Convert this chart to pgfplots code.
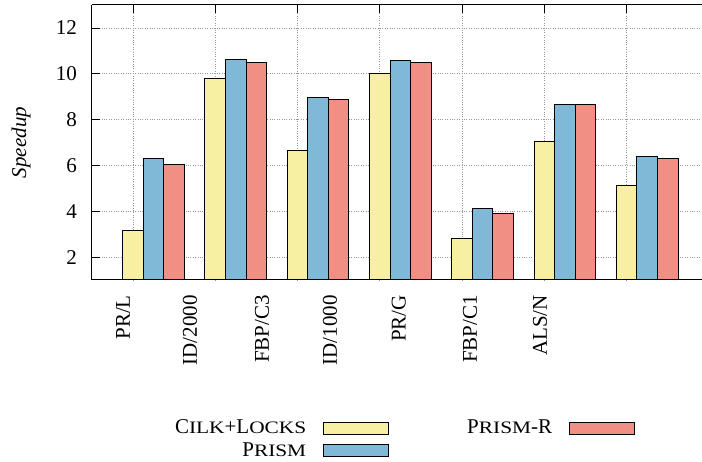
\documentclass[border=0pt]{standalone}
\usepackage{fontspec}
\setmainfont{Liberation Serif}
\usepackage{graphicx}
\usepackage{pgfplots}
\pgfplotsset{compat=1.18}
\definecolor{cyel}{RGB}{247,240,163}
\definecolor{cblu}{RGB}{128,184,216}
\definecolor{cred}{RGB}{242,143,132}
\newcommand{\sm}[1]{\scalebox{1.22}[1]{\fontsize{17.5}{20}\selectfont #1}}
\begin{document}
\fontsize{21}{25}\selectfont
\begin{tikzpicture}
\path[use as bounding box] (-92pt,-182pt) rectangle (610pt,280pt);
\begin{axis}[
  at={(0,0)}, anchor=south west,
  scale only axis, width=610pt, height=275pt,
  xmin=-0.747, xmax=6.665, ymin=1, ymax=13,
  axis y line*=left,
  axis line style={line width=1pt, black},
  xtick={-0.25,0.75,1.75,2.75,3.75,4.75,5.75},
  xticklabels={},
  ytick={2,4,6,8,10,12},
  yticklabels={2,4,6,8,10,12},
  yticklabel style={font=\rmfamily\fontsize{21}{25}\selectfont},
  major tick length=8pt,
  tick style={line width=0.8pt, black},
  grid=major,
  grid style={dotted, line width=0.8pt, gray!80},
  yticklabel shift=8pt,
  extra x ticks={-0.371,0.4435,1.318,2.144,2.98,3.846,4.696},
  extra x tick labels={PR/L,ID/2000,FBP/C3,ID/1000,PR/G,FBP/C1,ALS/N},
  extra x tick style={major tick length=0pt, grid=none,
     tick label style={rotate=90, anchor=east}, xticklabel shift=8pt},
  ylabel={\textit{Speedup}},
  every axis y label/.style={at={(axis description cs:-0.1164,0.5)}, rotate=90, anchor=center},
  legend columns=2,
  legend cell align=right,
  legend plot pos=right,
  legend image code/.code={\path (0pt,0pt) (80pt,0pt); \draw[#1, line width=1pt] (15pt,-6pt) rectangle (80pt,6pt);},
  legend style={at={(axis description cs:0.1276,-0.493)}, anchor=north west, draw=none, fill=none,
     row sep=1.5pt,
     /tikz/every even column/.append style={column sep=76pt}},
]
\addplot[ybar, bar width=0.25, bar shift=-0.25, fill=cyel, draw=black, line width=1pt]
  coordinates {(0,3.16) (1,9.79) (2,6.63) (3,10.03) (4,2.79) (5,7.03) (6,5.13)};
\addlegendentry{C\sm{ILK}+L\sm{OCKS}}
\addplot[ybar, bar width=0.25, bar shift=0.25, fill=cred, draw=black, line width=1pt]
  coordinates {(0,6.06) (1,10.48) (2,8.87) (3,10.50) (4,3.92) (5,8.65) (6,6.29)};
\addlegendentry{P\sm{RISM}-R}
\addplot[ybar, bar width=0.25, bar shift=0, fill=cblu, draw=black, line width=1pt]
  coordinates {(0,6.28) (1,10.60) (2,8.96) (3,10.56) (4,4.10) (5,8.65) (6,6.38)};
\addlegendentry{P\sm{RISM}}
\end{axis}
\end{tikzpicture}
\end{document}
